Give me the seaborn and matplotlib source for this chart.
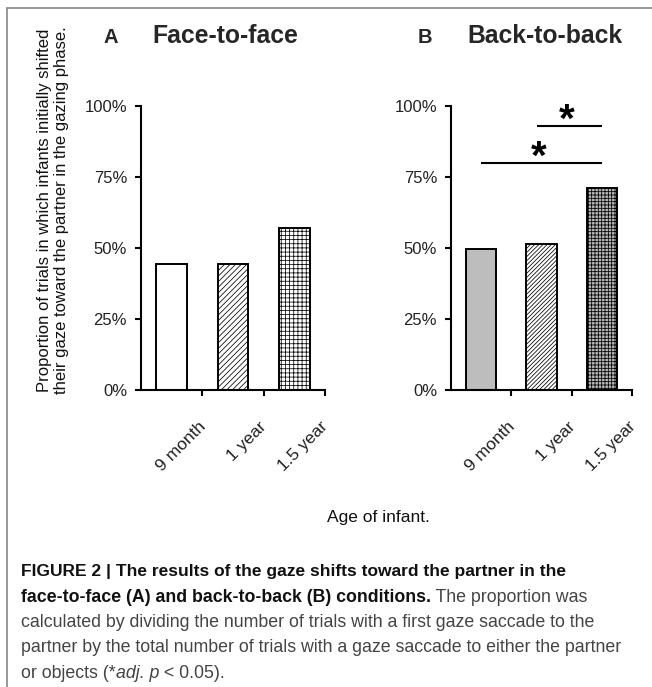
import numpy as np
import pandas as pd
import seaborn as sns
import matplotlib.pyplot as plt
from matplotlib.lines import Line2D
from matplotlib.transforms import ScaledTranslation
from matplotlib.ticker import PercentFormatter

# data
ages = ['9 month', '1 year', '1.5 year']
face_to_face = [0.445, 0.445, 0.57]
back_to_back = [0.495, 0.515, 0.71]
yticks = [0, 0.25, 0.5, 0.75, 1.0]

# significance lines in panel B (category from, category to, height)
sig_from = [0.92, 0.0]
sig_to = [2.0, 2.0]
sig_y = [0.93, 0.80]

sns.set_theme(style='white')
plt.rcParams['font.family'] = ['Liberation Sans', 'DejaVu Sans']
plt.rcParams['hatch.linewidth'] = 0.55

W, H = 652, 687
fig = plt.figure(figsize=(W / 100, H / 100), dpi=100)
fig.patch.set_facecolor('white')

ax_a = fig.add_axes([141 / W, 1 - 390 / H, 184 / W, 284 / H])
ax_b = fig.add_axes([451 / W, 1 - 390 / H, 181 / W, 284 / H])

fills_a = ['white', 'white', 'white']
fills_b = ['#bdbdbd', 'white', '#b5b5b5']
hatch_a = ['', '//////', '++++']
hatch_b = ['', '////////', '+++++']

for ax, vals, fills, hatches in [(ax_a, face_to_face, fills_a, hatch_a),
                                 (ax_b, back_to_back, fills_b, hatch_b)]:
    sns.barplot(x=ages, y=vals, order=ages, width=0.5, color='white',
                saturation=1, errorbar=None, ax=ax)
    for p, fc, h in zip(ax.patches, fills, hatches):
        p.set_facecolor(fc)
        p.set_hatch(h)
        p.set_edgecolor('black')
        p.set_linewidth(1.4)

    ax.set_xlim(-0.5, 2.5)
    ax.set_ylim(0, 1)
    sns.despine(ax=ax)
    for s in ['left', 'bottom']:
        ax.spines[s].set_linewidth(1.5)
        ax.spines[s].set_color('black')
    ax.set_facecolor('white')
    ax.set_xlabel('')
    ax.set_ylabel('')

    ax.set_yticks(yticks)
    ax.yaxis.set_major_formatter(PercentFormatter(1.0, decimals=0))
    ax.tick_params(axis='y', left=True, length=4, width=1.5, color='black',
                   labelsize=12, pad=6, labelcolor='#222')

    ax.set_xticks([0.5, 1.5, 2.5], minor=True)
    ax.tick_params(axis='x', which='minor', bottom=True, length=4, width=1.5,
                   color='black', direction='out')
    ax.set_xticks(range(3))
    ax.set_xticklabels(ages, rotation=45, ha='right', va='top',
                       rotation_mode='anchor')
    ax.tick_params(axis='x', which='major', bottom=True, length=0, pad=21,
                   labelsize=12.5, labelcolor='#222')
    off = ScaledTranslation(26 / 100, 0, fig.dpi_scale_trans)
    for lab in ax.get_xticklabels():
        lab.set_transform(lab.get_transform() + off)

# significance markers
for x0, x1, h in zip(sig_from, sig_to, sig_y):
    ax_b.plot([x0, x1], [h, h], color='black', lw=1.5, solid_capstyle='butt')
    ax_b.text((x0 + x1) / 2 - 0.04, h - 0.02, '*', fontsize=29,
              fontweight='bold', ha='center', va='baseline', color='black')

# panel titles
fig.text(103 / W, 1 - 43 / H, 'A', fontsize=14.5, fontweight='bold', va='baseline')
fig.text(152 / W, 1 - 43 / H, 'Face-to-face', fontsize=17.8, fontweight='bold',
         va='baseline')
fig.text(418 / W, 1 - 43 / H, 'B', fontsize=14.5, fontweight='bold', va='baseline')
fig.text(467 / W, 1 - 43 / H, 'Back-to-back', fontsize=17.8, fontweight='bold',
         va='baseline')

# axis titles
fig.text(53 / W, 1 - 210 / H,
         'Proportion of trials in which infants initially shifted\n'
         'their gaze toward the partner in the gazing phase.',
         rotation=90, ha='center', va='center', fontsize=12, linespacing=1.1,
         multialignment='center', color='#111')
fig.text(378 / W, 1 - 522 / H, 'Age of infant.', ha='center', va='baseline',
         fontsize=12.5, color='#111')

# frame
fig.add_artist(Line2D([7 / W, 7 / W], [0, 1 - 8 / H], transform=fig.transFigure,
                      color='#888888', lw=1.2))
fig.add_artist(Line2D([7 / W, 1], [1 - 8 / H, 1 - 8 / H], transform=fig.transFigure,
                      color='#888888', lw=1.2))

# caption
cx = 21 / W
cap_fs = 12.8
bold_c = '#111111'
reg_c = '#444444'
base = [576, 601.5, 627, 652.5, 678]

fig.text(cx, 1 - base[0] / H,
         'FIGURE 2 | The results of the gaze shifts toward the partner in the',
         fontsize=12.5, fontweight='bold', color=bold_c, va='baseline')
t2 = fig.text(cx, 1 - base[1] / H,
              'face-to-face (A) and back-to-back (B) conditions.',
              fontsize=cap_fs, fontweight='bold', color=bold_c, va='baseline')
ax_b.annotate(' The proportion was', xy=(1, 1 - base[1] / H),
              xycoords=(t2, 'figure fraction'), fontsize=cap_fs, color=reg_c,
              va='baseline', ha='left', annotation_clip=False)
fig.text(cx, 1 - base[2] / H,
         'calculated by dividing the number of trials with a first gaze saccade to the',
         fontsize=cap_fs, color=reg_c, va='baseline')
fig.text(cx, 1 - base[3] / H,
         'partner by the total number of trials with a gaze saccade to either the partner',
         fontsize=cap_fs, color=reg_c, va='baseline')
t5 = fig.text(cx, 1 - base[4] / H, 'or objects (*', fontsize=cap_fs, color=reg_c,
              va='baseline')
t6 = ax_b.annotate('adj. p', xy=(1, 1 - base[4] / H),
                   xycoords=(t5, 'figure fraction'), fontsize=cap_fs, color=reg_c,
                   style='italic', va='baseline', ha='left', annotation_clip=False)
ax_b.annotate(' < 0.05).', xy=(1, 1 - base[4] / H),
              xycoords=(t6, 'figure fraction'), fontsize=cap_fs, color=reg_c,
              va='baseline', ha='left', annotation_clip=False)

fig.savefig('out.png', dpi=100)
